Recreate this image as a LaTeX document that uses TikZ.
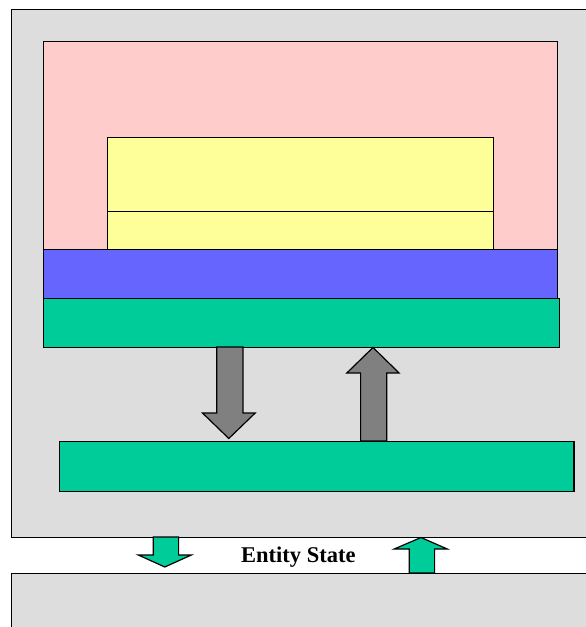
\documentclass[tikz,border=0pt]{standalone}
\usepackage{fontspec}
\setmainfont{Liberation Serif}
\definecolor{bggray}{HTML}{DDDDDD}
\definecolor{pinkc}{HTML}{FFCCCC}
\definecolor{yellowc}{HTML}{FFFF99}
\definecolor{bluec}{HTML}{6666FF}
\definecolor{greenc}{HTML}{00CC99}
\definecolor{arrowgray}{HTML}{808080}
\tikzset{
  box/.style={draw=black, line width=1.3pt, inner sep=0pt, anchor=north west},
  blockarrow/.style={draw=black, line width=1.2pt, line join=miter},
}
\begin{document}
\begin{tikzpicture}[x=1pt,y=-1pt]
\useasboundingbox (0,0) rectangle (586,627);
\clip (0,0) rectangle (586,627);
\fill[white] (0,0) rectangle (586,627);
% outer containers
\node[box, fill=bggray, minimum width=600pt, minimum height=528pt] (outer) at (11,9) {};
\node[box, fill=bggray, minimum width=600pt, minimum height=80pt] (lower) at (11,573) {};
% pink region
\node[box, fill=pinkc, minimum width=514pt, minimum height=208pt] (pink) at (42.5,41) {};
% yellow stack
\node[box, fill=yellowc, minimum width=385.5pt, minimum height=74pt] (yel1) at (107,137) {};
\node[box, fill=yellowc, minimum width=385.5pt, minimum height=38pt] (yel2) at (107,211) {};
% blue band
\node[box, fill=bluec, minimum width=514pt, minimum height=49pt] (blue) at (42.5,249) {};
% green bands
\node[box, fill=greenc, minimum width=516pt, minimum height=49pt] (gtop) at (42.5,298) {};
\node[box, fill=greenc, minimum width=514.5pt, minimum height=50pt] (gbot) at (58.7,441) {};
% gray down arrow (gtop -> gbot)
\draw[blockarrow, fill=arrowgray]
  (216.7,347) -- (242.9,347) -- (242.9,413) -- (255.2,413) -- (228.8,438.5)
  -- (202.5,413) -- (216.7,413) -- cycle;
% gray up arrow (gbot -> gtop)
\draw[blockarrow, fill=arrowgray]
  (360.6,441) -- (360.6,373) -- (346.8,373) -- (373,347.5) -- (399.1,373)
  -- (386.8,373) -- (386.8,441) -- cycle;
% green down arrow (outer -> lower)
\draw[blockarrow, fill=greenc]
  (153.2,537) -- (178.6,537) -- (178.6,555) -- (191.3,555) -- (164.8,567)
  -- (138.3,555) -- (153.2,555) -- cycle;
% green up arrow (lower -> outer)
\draw[blockarrow, fill=greenc]
  (409.2,573) -- (409.2,549) -- (394.2,549) -- (421,537.5) -- (447.3,549)
  -- (434.6,549) -- (434.6,573) -- cycle;
% label
\node[font=\bfseries\fontsize{22.5}{26}\selectfont, inner sep=0pt] (es) at (298.4,557) {Entity State};
\end{tikzpicture}
\end{document}
